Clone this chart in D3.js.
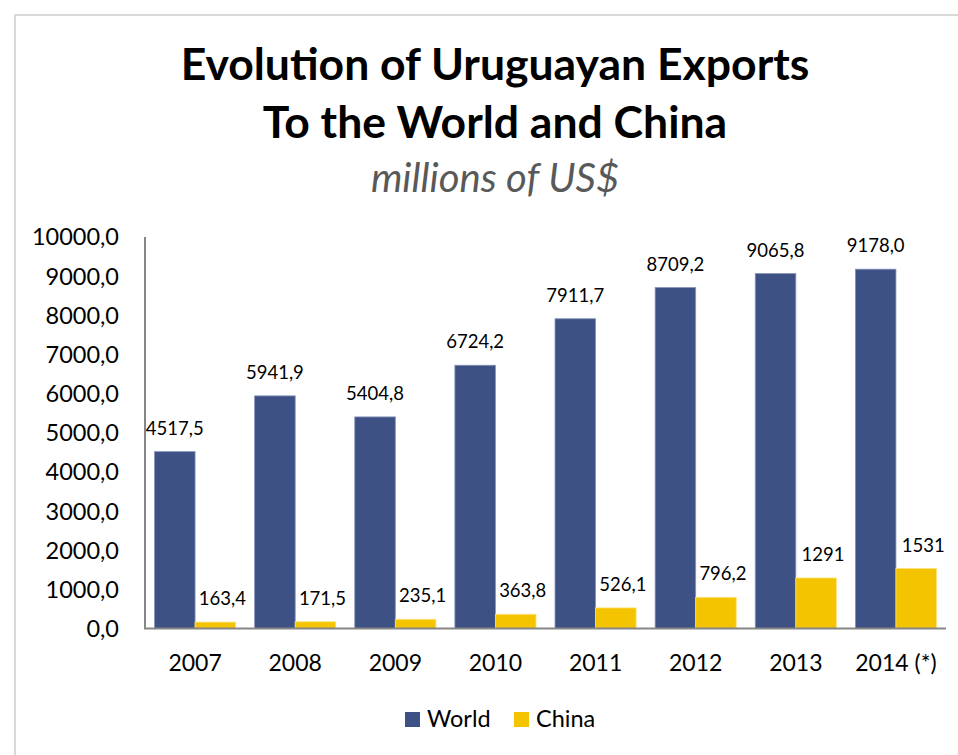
<!DOCTYPE html>
<html>
<head>
<meta charset="utf-8">
<script src="https://cdn.jsdelivr.net/npm/d3@7"></script>
<style>
  body { margin: 0; background: #fff; }
  svg { display: block; font-family: Lato, "Open Sans", sans-serif; }
</style>
</head>
<body>
<svg id="chart" width="958" height="755"></svg>
<script>
// Data
const years = ["2007", "2008", "2009", "2010", "2011", "2012", "2013", "2014 (*)"];
const world = [4517.5, 5941.9, 5404.8, 6724.2, 7911.7, 8709.2, 9065.8, 9178.0];
const china = [163.4, 171.5, 235.1, 363.8, 526.1, 796.2, 1291, 1531];
const chinaLabels = ["163,4", "171,5", "235,1", "363,8", "526,1", "796,2", "1291", "1531"];
const yTicks = [0, 1000, 2000, 3000, 4000, 5000, 6000, 7000, 8000, 9000, 10000];
const seriesNames = ["World", "China"];
const seriesColors = ["#3e5185", "#f5c400"];

const svg = d3.select('#chart');

// Outer frame (light gray, runs off the right and bottom)
svg.append('rect')
    .attr('x', 15)
    .attr('y', 15)
    .attr('width', 970)
    .attr('height', 770)
    .attr('fill', 'none')
    .attr('stroke', '#d9d9d9')
    .attr('stroke-width', 2);

// Titles
svg.append('text')
    .attr('x', 495)
    .attr('y', 80)
    .attr('text-anchor', 'middle')
    .attr('font-size', 44.5)
    .attr('font-weight', 'bold')
    .text('Evolution of Uruguayan Exports');
svg.append('text')
    .attr('x', 495)
    .attr('y', 138)
    .attr('text-anchor', 'middle')
    .attr('font-size', 44.5)
    .attr('font-weight', 'bold')
    .text('To the World and China');
svg.append('text')
    .attr('x', 495)
    .attr('y', 192)
    .attr('text-anchor', 'middle')
    .attr('font-size', 40)
    .attr('font-style', 'italic')
    .attr('fill', '#595959')
    .text('millions of US$');

// Scales
const x = d3.scaleBand()
    .domain(years)
    .range([145, 946])
    .paddingInner(0.19)
    .paddingOuter(0.095);

const xSub = d3.scaleBand()
    .domain(seriesNames)
    .range([0, x.bandwidth()]);

const y = d3.scaleLinear()
    .domain([0, 10000])
    .range([628.5, 237]);

const fmt = v => d3.format('.1f')(v).replace('.', ',');

// Y tick labels (no gridlines)
svg.append('g')
    .selectAll('text')
    .data(yTicks)
    .join('text')
    .attr('x', 119)
    .attr('y', d => y(d))
    .attr('dy', '0.36em')
    .attr('text-anchor', 'end')
    .attr('font-size', 23.5)
    .attr('fill', '#000')
    .text(d => fmt(d));

// Bars
const groups = svg.append('g')
    .selectAll('g')
    .data(years)
    .join('g')
    .attr('transform', d => `translate(${x(d)},0)`);

groups.append('rect')
    .attr('x', xSub('World'))
    .attr('y', (d, i) => y(world[i]))
    .attr('width', xSub.bandwidth())
    .attr('height', (d, i) => y(0) - y(world[i]))
    .attr('fill', seriesColors[0])
    .attr('stroke', '#8594bb')
    .attr('stroke-width', 0.8);

groups.append('rect')
    .attr('x', xSub('China'))
    .attr('y', (d, i) => y(china[i]))
    .attr('width', xSub.bandwidth())
    .attr('height', (d, i) => y(0) - y(china[i]))
    .attr('fill', seriesColors[1])
    .attr('stroke', '#fbe27a')
    .attr('stroke-width', 0.8);

// Value labels
groups.append('text')
    .attr('x', xSub('World') + xSub.bandwidth() / 2)
    .attr('y', (d, i) => y(world[i]) - 17)
    .attr('text-anchor', 'middle')
    .attr('font-size', 18.5)
    .text((d, i) => fmt(world[i]));

groups.append('text')
    .attr('x', xSub('China') + xSub.bandwidth() / 2 + 7)
    .attr('y', (d, i) => y(china[i]) - 17)
    .attr('text-anchor', 'middle')
    .attr('font-size', 18.5)
    .text((d, i) => chinaLabels[i]);

// Axis lines
svg.append('line')
    .attr('x1', 145).attr('x2', 145)
    .attr('y1', 237).attr('y2', 628.5)
    .attr('stroke', '#868686')
    .attr('stroke-width', 2);
svg.append('line')
    .attr('x1', 144).attr('x2', 946)
    .attr('y1', 628.5).attr('y2', 628.5)
    .attr('stroke', '#868686')
    .attr('stroke-width', 2);

// Category labels
svg.append('g')
    .selectAll('text')
    .data(years)
    .join('text')
    .attr('x', d => x(d) + x.bandwidth() / 2)
    .attr('y', 671)
    .attr('text-anchor', 'middle')
    .attr('font-size', 23)
    .text(d => d);

// Legend
const legend = svg.append('g')
    .selectAll('g')
    .data(seriesNames)
    .join('g')
    .attr('transform', (d, i) => `translate(${405 + i * 109},712)`);

legend.append('rect')
    .attr('width', 15)
    .attr('height', 15)
    .attr('fill', (d, i) => seriesColors[i]);

legend.append('text')
    .attr('x', 22)
    .attr('y', 15)
    .attr('font-size', 23.5)
    .text(d => d);
</script>
</body>
</html>
